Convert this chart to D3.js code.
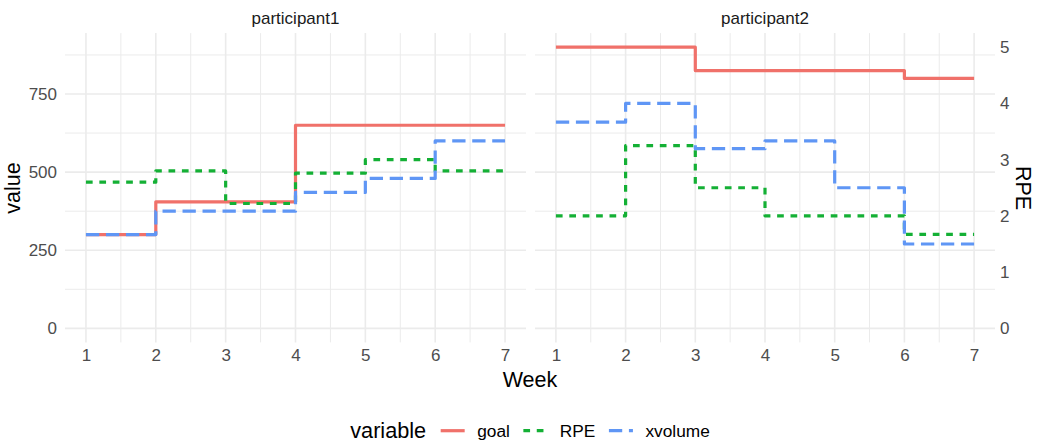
<!DOCTYPE html>
<html>
<head>
<meta charset="utf-8">
<script src="https://cdn.jsdelivr.net/npm/d3@7"></script>
<style>
  html, body { margin: 0; padding: 0; background: white; }
  svg { display: block; font-family: 'Liberation Sans', Arial, sans-serif; }
</style>
</head>
<body>
<svg id="chart"></svg>
<script>
// values, one entry per week
var weeks = [1, 2, 3, 4, 5, 6, 7];
var participants = ['participant1', 'participant2'];
var goalP1 = [300, 405, 405, 650, 650, 650, 650];
var goalP2 = [900, 900, 825, 825, 825, 800, 800];
var xvolumeP1 = [300, 375, 375, 435, 480, 600, 600];
var xvolumeP2 = [660, 720, 575, 600, 450, 270, 270];
var rpeP1 = [2.6, 2.8, 2.22, 2.76, 3.0, 2.8, 2.8];
var rpeP2 = [2.0, 3.25, 2.5, 2.0, 2.0, 1.67, 1.67];
var valueTicks = [0, 250, 500, 750];
var rpeTicks = [0, 1, 2, 3, 4, 5];
var rpeScaleFactor = 180;
var variables = ['goal', 'RPE', 'xvolume'];

var self;
var svg;

class StepChartSvg {
    constructor(id){
        this.id = id;
        this.width = 1044;
        this.height = 442;
        this.colors = { goal: '#F0716A', RPE: '#14B035', xvolume: '#5F96F5' };
        this.dashes = { goal: null, RPE: '6.7,6.7', xvolume: '13.3,6.7' };
        this.gridColor = '#EBEBEB';
        this.tickColor = '#4D4D4D';
        this.panels = [
            { name: participants[0], x0: 65, x1: 526, goal: goalP1, RPE: rpeP1, xvolume: xvolumeP1 },
            { name: participants[1], x0: 535, x1: 995, goal: goalP2, RPE: rpeP2, xvolume: xvolumeP2 }
        ];
        this.top = 33.1;
        this.bottom = 342.4;
        this.y = d3.scaleLinear().domain([-45, 945]).range([this.bottom, this.top]);
        this.yRpe = d3.scaleLinear()
            .domain(this.y.domain().map(function(d){ return d / rpeScaleFactor; }))
            .range(this.y.range());
    }

    Draw(){
        self = this;
        svg = d3.select('svg#' + this.id)
            .attr('width', this.width)
            .attr('height', this.height);

        svg.append('rect')
            .attr('width', this.width)
            .attr('height', this.height)
            .style('fill', 'white');

        this.panels.forEach(function(p, i){
            self.DrawPanel(p, i);
        });

        // left axis (value)
        var left = svg.append('g')
            .attr('transform', 'translate(' + this.panels[0].x0 + ',0)')
            .call(d3.axisLeft(this.y).tickValues(valueTicks).tickSize(0).tickPadding(8));
        this.StyleAxis(left);

        // right axis (RPE, secondary scale)
        var right = svg.append('g')
            .attr('transform', 'translate(' + this.panels[1].x1 + ',0)')
            .call(d3.axisRight(this.yRpe).tickValues(rpeTicks).tickFormat(d3.format('d')).tickSize(0).tickPadding(5));
        this.StyleAxis(right);

        // axis titles
        svg.append('text')
            .attr('transform', 'translate(20,188) rotate(-90)')
            .attr('text-anchor', 'middle')
            .style('font-size', '21.5px')
            .style('fill', 'black')
            .text('value');
        svg.append('text')
            .attr('transform', 'translate(1016,188) rotate(90)')
            .attr('text-anchor', 'middle')
            .style('font-size', '21.5px')
            .style('fill', 'black')
            .text('RPE');
        svg.append('text')
            .attr('x', (this.panels[0].x0 + this.panels[1].x1) / 2)
            .attr('y', 386.5)
            .attr('text-anchor', 'middle')
            .style('font-size', '21.5px')
            .style('fill', 'black')
            .text('Week');

        this.DrawLegend();
    }

    DrawPanel(p, i){
        var x = d3.scaleLinear().domain([0.7, 7.3]).range([p.x0, p.x1]);
        var y = this.y;
        var g = svg.append('g');

        var minorY = d3.range(-125, 1000, 250).filter(function(v){ return v > y.domain()[0] && v < y.domain()[1]; });
        var minorX = d3.range(1.5, 7, 1);

        // minor grid
        g.selectAll('line.minor-y').data(minorY).enter().append('line')
            .attr('x1', p.x0).attr('x2', p.x1)
            .attr('y1', function(d){ return y(d); }).attr('y2', function(d){ return y(d); })
            .style('stroke', this.gridColor).style('stroke-width', 1);
        g.selectAll('line.minor-x').data(minorX).enter().append('line')
            .attr('x1', function(d){ return x(d); }).attr('x2', function(d){ return x(d); })
            .attr('y1', this.top).attr('y2', this.bottom)
            .style('stroke', this.gridColor).style('stroke-width', 1);

        // major grid
        g.selectAll('line.major-y').data(valueTicks).enter().append('line')
            .attr('x1', p.x0).attr('x2', p.x1)
            .attr('y1', function(d){ return y(d); }).attr('y2', function(d){ return y(d); })
            .style('stroke', this.gridColor).style('stroke-width', 1.6);
        g.selectAll('line.major-x').data(weeks).enter().append('line')
            .attr('x1', function(d){ return x(d); }).attr('x2', function(d){ return x(d); })
            .attr('y1', this.top).attr('y2', this.bottom)
            .style('stroke', this.gridColor).style('stroke-width', 1.6);

        // strip title
        g.append('text')
            .attr('x', (p.x0 + p.x1) / 2)
            .attr('y', 24)
            .attr('text-anchor', 'middle')
            .style('font-size', '17px')
            .style('fill', '#1A1A1A')
            .text(p.name);

        // week axis
        var bottomAxis = g.append('g')
            .attr('transform', 'translate(0,' + this.bottom + ')')
            .call(d3.axisBottom(x).tickValues(weeks).tickFormat(d3.format('d')).tickSize(0).tickPadding(7));
        this.StyleAxis(bottomAxis);

        var line = d3.line()
            .x(function(d){ return x(d.week); })
            .y(function(d){ return y(d.value); })
            .curve(d3.curveStepAfter);

        variables.forEach(function(v){
            var data = weeks.map(function(w, k){
                var val = p[v][k];
                if(v === 'RPE'){
                    val = val * rpeScaleFactor;
                }
                return { week: w, value: val };
            });
            g.append('path')
                .datum(data)
                .attr('d', line)
                .style('fill', 'none')
                .style('stroke', self.colors[v])
                .style('stroke-width', 3.2)
                .style('stroke-linejoin', 'round')
                .style('stroke-linecap', 'butt')
                .style('stroke-dasharray', self.dashes[v]);
        });
    }

    StyleAxis(axis){
        axis.select('.domain').remove();
        axis.selectAll('text')
            .style('font-size', '17px')
            .style('font-family', "'Liberation Sans', Arial, sans-serif")
            .style('fill', this.tickColor);
    }

    DrawLegend(){
        var legend = svg.append('g');
        var keyY = 430.7;
        var keyWidth = 24;

        var title = legend.append('text')
            .attr('x', 0)
            .attr('y', keyY + 7.5)
            .style('font-size', '21.7px')
            .style('fill', 'black')
            .text('variable');
        var cursor = title.node().getComputedTextLength() + 14.5;

        variables.forEach(function(v){
            legend.append('line')
                .attr('x1', cursor).attr('x2', cursor + keyWidth)
                .attr('y1', keyY).attr('y2', keyY)
                .style('stroke', self.colors[v])
                .style('stroke-width', 3.2)
                .style('stroke-dasharray', self.dashes[v]);
            cursor += keyWidth + 12.5;
            var label = legend.append('text')
                .attr('x', cursor)
                .attr('y', keyY + 6)
                .style('font-size', '17.3px')
                .style('fill', 'black')
                .text(v);
            cursor += label.node().getComputedTextLength() + 13.5;
        });
        cursor -= 13.5;

        var center = (this.panels[0].x0 + this.panels[1].x1) / 2;
        legend.attr('transform', 'translate(' + (center - cursor / 2) + ',0)');
    }
}

var chart = new StepChartSvg('chart');
chart.Draw();
</script>
</body>
</html>
